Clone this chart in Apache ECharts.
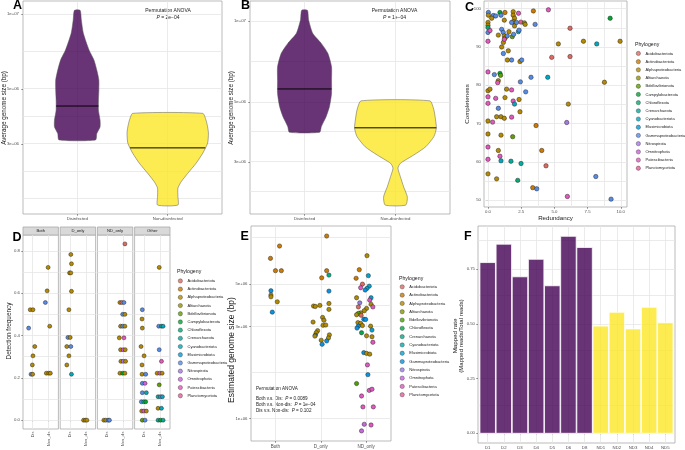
<!DOCTYPE html>
<html>
<head>
<meta charset="utf-8">
<title>Genome size and detection</title>
<script src="https://cdn.jsdelivr.net/npm/echarts@6.0.0/dist/echarts.min.js"></script>
<style>
  html, body { margin: 0; padding: 0; background: #fff; }
  #chart { width: 685px; height: 450px; }
</style>
</head>
<body>
<div id="chart"></div>
<script>
// ---------- shared ----------
const phyla = ['Acidobacteriota', 'Actinobacteriota', 'Alphaproteobacteria', 'Altiarchaeota',
  'Bdellovibrionota', 'Campylobacterota', 'Chloroflexota', 'Crenarchaeota', 'Cyanobacteriota',
  'Elusimicrobiota', 'Gammaproteobacteria', 'Nitrospirota', 'Omnitrophota', 'Patescibacteria',
  'Planctomycetota'];
const codes = ['Aci', 'Act', 'Alp', 'Alt', 'Bde', 'Cam', 'Chl', 'Cre', 'Cya', 'Elu', 'Gam', 'Nit', 'Omn', 'Pat', 'Pla'];
const phylaE = phyla.filter(p => p !== 'Campylobacterota');
const hue15 = ['#F8766D', '#E58700', '#C99800', '#A3A500', '#6BB100', '#00BA38', '#00BF7D', '#00C0AF',
  '#00BCD8', '#00B0F6', '#619CFF', '#B983FF', '#E76BF3', '#FD61D1', '#FF67A4'];
const hue14 = ['#F8766D', '#E38900', '#C49A00', '#99A800', '#53B400', '#00BC56', '#00C094', '#00BFC4',
  '#00B6EB', '#06A4FF', '#A58AFF', '#DF70F8', '#FB61D7', '#FF66A8'];

// ---------- A / B : violins of average genome size ----------
const groups = ['Disinfected', 'Non-disinfected'];
const sizeBreaks = [3e6, 5e6, 1e7];
const aDisSize = [1.034e7, 9.46e6, 8.36e6, 7.16e6, 6.53e6, 5.86e6, 5.43e6, 4.95e6, 4.52e6, 4.11e6, 3.75e6, 3.52e6, 3.31e6, 3.12e6];
const aDisDens = [0.07, 0.10, 0.15, 0.29, 0.41, 0.49, 0.53, 0.53, 0.52, 0.52, 0.56, 0.56, 0.48, 0.45];
const aNonSize = [3.99e6, 3.75e6, 3.52e6, 3.32e6, 3.03e6, 2.76e6, 2.52e6, 2.29e6, 2.12e6, 2.00e6, 1.85e6, 1.71e6];
const aNonDens = [0.86, 0.94, 0.98, 1.00, 0.98, 0.86, 0.70, 0.49, 0.33, 0.25, 0.25, 0.25];
const aMedian = [4.27e6, 2.90e6];
const bDisSize = [1.096e7, 1.008e7, 9.0e6, 8.26e6, 7.59e6, 6.77e6, 6.04e6, 5.39e6, 4.82e6, 4.43e6, 4.06e6, 3.87e6];
const bDisDens = [0.07, 0.10, 0.20, 0.41, 0.57, 0.66, 0.66, 0.66, 0.61, 0.53, 0.41, 0.37];
const bNonSize = [5.06e6, 4.68e6, 4.30e6, 4.01e6, 3.73e6, 3.42e6, 3.19e6, 2.97e6, 2.85e6, 2.65e6, 2.43e6, 2.23e6, 2.08e6];
const bNonDens = [0.84, 0.94, 0.98, 1.00, 0.94, 0.74, 0.45, 0.12, 0.06, 0.12, 0.20, 0.29, 0.25];
const bMedian = [5.60e6, 4.02e6];

// ---------- C : completeness vs redundancy ----------
const cRed = [0.03, 0.03, 0.40, 0.58, 0.28, 0.00, 0.00, 0.00, 0.00, 0.15,
  0.00, 0.90, 0.98, 1.28, 1.23, 1.90, 1.90, 2.00, 1.90, 2.00,
  2.30, 1.78, 2.15, 2.48, 2.74, 2.80, 3.42, 4.55, 3.55, 1.03,
  1.15, 0.78, 1.23, 1.28, 1.45, 1.16, 1.58, 1.83, 1.93, 2.29,
  2.34, 1.23, 1.03, 1.16, 1.53, 1.46, 1.78, 2.41, 2.54, 6.18,
  5.30, 7.19, 8.19, 9.95, 9.20, 4.80, 6.18, 0.00, 0.48, 0.90,
  0.95, 0.78, 0.73, 0.00, 0.15, 1.40, 1.78, 2.44, 3.24, 4.50,
  2.84, 0.00, 0.58, 1.28, 1.90, 2.00, 2.34, 0.00, 6.05, 8.77,
  0.78, 0.65, 0.98, 1.23, 1.78, 2.41, 0.00, 0.35, 3.62, 5.93,
  0.00, 0.98, 1.86, 0.00, 0.78, 4.05, 0.90, 0.98, 0.00, 1.73,
  2.49, 4.37, 0.00, 0.65, 2.24, 3.37, 3.67, 5.98, 8.12, 9.27];
const cComp = [99.0, 98.3, 98.2, 98.1, 97.5, 96.4, 95.7, 95.1, 93.8, 94.3,
  91.5, 99.0, 98.3, 99.0, 97.0, 99.2, 98.3, 97.5, 96.6, 95.5,
  98.8, 96.4, 96.4, 96.5, 96.3, 95.9, 99.4, 99.7, 95.9, 94.6,
  93.8, 93.1, 92.9, 92.3, 92.9, 91.2, 94.0, 92.7, 93.3, 94.0,
  94.4, 92.0, 90.0, 88.3, 89.0, 86.6, 86.6, 86.2, 86.6, 94.9,
  90.8, 91.5, 90.8, 91.5, 97.5, 87.3, 87.5, 83.5, 82.8, 83.1,
  82.6, 81.2, 80.7, 78.6, 79.0, 79.0, 78.8, 80.9, 82.1, 82.1,
  78.3, 77.0, 76.6, 76.8, 75.9, 75.1, 76.3, 75.3, 75.1, 80.8,
  74.0, 71.8, 71.8, 71.4, 71.7, 73.1, 70.7, 70.4, 69.5, 70.3,
  67.3, 67.0, 66.6, 63.9, 63.0, 63.0, 61.5, 60.3, 60.7, 60.2,
  59.6, 59.0, 56.9, 55.6, 55.2, 53.3, 53.0, 51.0, 56.2, 50.3];
const cPhy = ['Gam', 'Alp', 'Gam', 'Gam', 'Alp', 'Alp', 'Alp', 'Chl', 'Gam', 'Pat',
  'Pat', 'Cam', 'Gam', 'Act', 'Alp', 'Alp', 'Alp', 'Alp', 'Alp', 'Alp',
  'Pat', 'Gam', 'Gam', 'Pla', 'Alt', 'Alp', 'Act', 'Pat', 'Gam', 'Gam',
  'Gam', 'Alp', 'Alp', 'Alp', 'Gam', 'Alp', 'Alp', 'Bde', 'Gam', 'Cya',
  'Gam', 'Pat', 'Alp', 'Gam', 'Alp', 'Alp', 'Gam', 'Alp', 'Gam', 'Aci',
  'Alp', 'Alp', 'Cya', 'Alp', 'Cam', 'Aci', 'Aci', 'Pat', 'Gam', 'Cam',
  'Bde', 'Alp', 'Pat', 'Alp', 'Alp', 'Alp', 'Pat', 'Gam', 'Gam', 'Cya',
  'Gam', 'Pat', 'Pat', 'Alp', 'Pat', 'Cya', 'Alp', 'Pat', 'Alp', 'Alp',
  'Gam', 'Alp', 'Alp', 'Alp', 'Pat', 'Alp', 'Alp', 'Pat', 'Act', 'Nit',
  'Alp', 'Alp', 'Bde', 'Pat', 'Alp', 'Act', 'Pat', 'Cya', 'Pat', 'Cre',
  'Cre', 'Aci', 'Alp', 'Alp', 'Chl', 'Act', 'Gam', 'Pat', 'Gam', 'Gam'];
const cXBreaks = [0, 2.5, 5, 7.5, 10];
const cYBreaks = [50, 60, 70, 80, 90, 100];

// ---------- D : detection frequency by facet ----------
const dFacets = ['Both', 'D_only', 'ND_only', 'Other'];
const dGroups = ['Dis', 'Non_dis'];
const dBothX = [0.85, 1.02, 0.75, 1.13, 1.02, 0.98, 0.90, 1.00, 1.96, 1.90, 1.79, 2.06, 1.85, 2.00, 2.10];
const dBothY = [0.522, 0.522, 0.435, 0.348, 0.304, 0.261, 0.217, 0.217, 0.722, 0.611, 0.556, 0.444, 0.222, 0.222, 0.222];
const dBothP = ['Alp', 'Alp', 'Gam', 'Alp', 'Alp', 'Alp', 'Gam', 'Alp', 'Alp', 'Alp', 'Gam', 'Alp', 'Alp', 'Alp', 'Alp'];
const dDonX = [1.06, 1.10, 0.98, 1.06, 1.10, 0.94, 0.88, 1.02, 0.81, 1.06, 0.94, 0.81, 1.10, 1.85, 1.96, 2.06];
const dDonY = [0.783, 0.739, 0.696, 0.696, 0.609, 0.522, 0.391, 0.391, 0.348, 0.348, 0.304, 0.261, 0.217, 0, 0, 0];
const dDonP = ['Alp', 'Alp', 'Alp', 'Alp', 'Alp', 'Alp', 'Gam', 'Alp', 'Alp', 'Gam', 'Alp', 'Alp', 'Cya', 'Alp', 'Alp', 'Alp'];
const dNDonX = [0.80, 0.92, 1.07, 1.15, 2.11, 1.80, 1.92, 2.05, 1.97, 2.11, 1.84, 1.97, 2.11, 1.76, 2.05, 1.84,
  2.00, 2.13, 1.86, 2.00, 2.15, 1.80, 1.97, 2.11];
const dNDonY = [0, 0, 0, 0, 0.833, 0.556, 0.556, 0.556, 0.5, 0.5, 0.444, 0.444, 0.444, 0.389, 0.389, 0.333,
  0.333, 0.333, 0.278, 0.278, 0.278, 0.222, 0.222, 0.222];
const dNDonP = ['Alp', 'Alp', 'Gam', 'Gam', 'Aci', 'Alp', 'Aci', 'Gam', 'Gam', 'Alp', 'Alp', 'Gam', 'Alp', 'Alp', 'Pat', 'Alp',
  'Omn', 'Alp', 'Alp', 'Nit', 'Alp', 'Alp', 'Cam', 'Alp'];
const dOthX = [0.88, 0.86, 0.88, 0.80, 0.99, 0.86, 0.86, 1.09, 0.88, 1.05, 0.88, 1.13, 0.82, 0.97, 1.09, 0.84, 0.97, 1.13, 0.88, 1.05,
  1.93, 1.90, 2.07, 2.17, 1.93, 2.07, 1.80, 1.97, 2.11, 1.93, 1.86, 2.01, 2.13, 1.86, 2.07, 1.86, 2.01, 2.17];
const dOthY = [0.522, 0.478, 0.435, 0.348, 0.304, 0.261, 0.217, 0.217, 0.174, 0.174, 0.130, 0.130, 0.087, 0.087, 0.087, 0.043, 0.043, 0.043, 0, 0,
  0.722, 0.444, 0.444, 0.444, 0.333, 0.278, 0.222, 0.222, 0.222, 0.167, 0.111, 0.111, 0.111, 0.056, 0.056, 0, 0, 0];
const dOthP = ['Gam', 'Alp', 'Alp', 'Alp', 'Alp', 'Alp', 'Alp', 'Gam', 'Gam', 'Omn', 'Gam', 'Cya', 'Gam', 'Cre', 'Cam', 'Alp', 'Pat', 'Alp', 'Bde', 'Gam',
  'Alp', 'Gam', 'Cre', 'Cya', 'Gam', 'Pat', 'Alp', 'Pat', 'Alp', 'Bde', 'Cre', 'Gam', 'Cya', 'Alp', 'Cya', 'Cre', 'Cam', 'Cre'];
const dYBreaks = [0, 0.2, 0.4, 0.6, 0.8];

// ---------- E : estimated genome size ----------
const eGroups = ['Both', 'D_only', 'ND_only'];
const eX = [1.09, 0.89, 1.00, 1.13, 0.90, 0.90, 0.90, 1.04, 0.93,
  2.13, 2.13, 2.02, 2.18, 2.18, 2.18, 2.18, 1.84, 1.88, 1.98, 1.83, 2.04, 2.07, 2.05, 2.11, 1.93, 1.90, 1.88, 1.87, 2.19, 2.17, 2.01, 2.13, 2.03,
  3.02, 2.85, 2.78, 3.05, 2.92, 2.88, 3.07, 3.02, 2.98, 2.79, 2.86, 3.11, 3.08, 3.11, 3.15, 2.83, 3.01, 2.96, 2.88, 2.83, 2.89, 2.79, 2.95, 2.99,
  2.82, 2.88, 2.83, 2.92, 2.80, 3.10, 3.13, 2.90, 3.01, 3.13, 3.15, 2.95, 3.01, 3.08, 3.03, 3.04, 2.79, 3.07, 3.13, 2.90, 2.93, 3.16, 2.96, 3.11, 2.90];
const eSize = [7.87e6, 6.79e6, 5.86e6, 5.86e6, 4.61e6, 4.38e6, 4.29e6, 4.04e6, 3.57e6,
  8.87e6, 5.86e6, 5.38e6, 5.56e6, 4.59e6, 3.96e6, 3.69e6, 3.84e6, 3.82e6, 3.87e6, 3.17e6, 3.35e6, 3.24e6, 3.05e6, 3.06e6, 2.86e6, 2.79e6, 2.71e6, 2.68e6, 2.72e6, 2.62e6, 2.55e6, 2.53e6, 2.43e6,
  7.01e6, 5.93e6, 5.35e6, 5.52e6, 4.99e6, 4.78e6, 4.87e6, 4.74e6, 4.65e6, 4.24e6, 3.99e6, 4.24e6, 4.12e6, 3.92e6, 3.80e6, 3.80e6, 3.73e6, 3.63e6, 3.54e6, 3.52e6, 3.44e6, 3.46e6, 3.28e6, 3.27e6,
  3.15e6, 3.12e6, 3.02e6, 3.04e6, 2.95e6, 3.02e6, 2.88e6, 2.79e6, 2.69e6, 2.66e6, 2.49e6, 2.20e6, 2.18e6, 2.16e6, 1.90e6, 1.69e6, 1.52e6, 1.40e6, 1.42e6, 1.31e6, 1.15e6, 1.15e6, 9.34e5, 9.26e5, 8.63e5];
const ePhy = ['Act', 'Act', 'Act', 'Act', 'Gam', 'Alp', 'Alp', 'Alp', 'Gam',
  'Act', 'Act', 'Act', 'Cre', 'Gam', 'Alp', 'Alp', 'Alp', 'Alp', 'Alp', 'Alp', 'Alp', 'Alp', 'Alp', 'Alp', 'Alp', 'Alp', 'Gam', 'Alp', 'Alp', 'Alp', 'Alp', 'Gam', 'Gam',
  'Alp', 'Act', 'Act', 'Elu', 'Aci', 'Pat', 'Elu', 'Elu', 'Gam', 'Alp', 'Nit', 'Elu', 'Pat', 'Alp', 'Pat', 'Aci', 'Alp', 'Alp', 'Alp', 'Bde', 'Aci', 'Alp', 'Gam', 'Gam',
  'Alp', 'Alp', 'Gam', 'Alp', 'Gam', 'Alp', 'Elu', 'Chl', 'Alp', 'Alp', 'Pat', 'Gam', 'Alp', 'Alp', 'Pat', 'Gam', 'Bde', 'Pat', 'Pat', 'Pat', 'Pat', 'Pat', 'Omn', 'Pat', 'Omn'];
const eBreaks = [1e6, 3e6, 5e6];

// ---------- F : mapped rate ----------
const fSamples = ['D1', 'D2', 'D3', 'D4', 'D5', 'D6', 'D8', 'ND1', 'ND2', 'ND3', 'ND4', 'ND5'];
const fRate = [0.780, 0.864, 0.715, 0.795, 0.674, 0.900, 0.849, 0.490, 0.553, 0.477, 0.576, 0.505];
const fGroup = ['D', 'D', 'D', 'D', 'D', 'D', 'D', 'ND', 'ND', 'ND', 'ND', 'ND'];
const fBreaks = [0, 0.25, 0.5, 0.75];

// ---------- helpers ----------
const FONT = '"Liberation Sans", Arial, Helvetica, sans-serif';
const PURPLE = 'rgba(68,1,84,0.8)';
const YELLOW = 'rgba(253,231,37,0.8)';
const VW = 0.45;
const lg = Math.log10;
const sci = v => Math.pow(10, v).toExponential(0).replace(/e([+-])(\d)$/, 'e$10$2');

// points look a touch darker than the raw hue palette in the figure
function shade(hex, k) {
  const n = parseInt(hex.slice(1), 16);
  const c = [n >> 16, (n >> 8) & 255, n & 255].map(v => Math.round(v * k));
  return 'rgb(' + c.join(',') + ')';
}
const pal15 = hue15.map(h => shade(h, 0.9));
const pal14 = hue14.map(h => shade(h, 0.9));

// ggplot-style minor breaks: midpoints, extended one step past the ends
function withMinor(b, lo, hi) {
  b = b.slice();
  const bd = b[1] - b[0];
  if (lo < b[0]) b.unshift(b[0] - bd);
  if (hi > b[b.length - 1]) b.push(b[b.length - 1] + bd);
  const out = [];
  for (let i = 0; i < b.length - 1; i++) out.push(b[i], (b[i] + b[i + 1]) / 2);
  out.push(b[b.length - 1]);
  return out.filter(v => v >= lo - 1e-9 && v <= hi + 1e-9);
}

function axis(gi, min, max, ticks, fmt, o = {}) {
  return {
    type: 'value', gridIndex: gi, min, max,
    axisLine: { show: false },
    splitLine: { show: false },
    axisTick: { show: o.tick !== false, customValues: ticks, length: 1.8, lineStyle: { color: '#333', width: 0.5 } },
    axisLabel: {
      show: o.label !== false, customValues: ticks, formatter: fmt, rotate: o.rotate || 0,
      fontSize: o.fs || 4.3, color: '#4D4D4D', fontFamily: FONT, margin: o.margin || 3
    }
  };
}

function gridSeries(gi, xs, ys) {
  return {
    type: 'line', xAxisIndex: gi, yAxisIndex: gi, data: [], silent: true,
    markLine: {
      silent: true, z: 1, animation: false, symbol: ['none', 'none'], label: { show: false },
      lineStyle: { color: '#E6E6E6', width: 0.8, type: 'solid' }, emphasis: { disabled: true },
      data: xs.map(v => ({ xAxis: v })).concat(ys.map(v => ({ yAxis: v })))
    }
  };
}

function violin(gi, xc, sizes, dens, fill) {
  return {
    type: 'custom', xAxisIndex: gi, yAxisIndex: gi, z: 3, silent: true,
    data: sizes.map((s, i) => [xc, lg(s), dens[i]]),
    renderItem: (params, api) => {
      if (params.dataIndex !== 0) return null;
      const right = [], left = [];
      for (let i = 0; i < sizes.length; i++) {
        const w = dens[i] * VW;
        right.push(api.coord([xc + w, lg(sizes[i])]));
        left.unshift(api.coord([xc - w, lg(sizes[i])]));
      }
      return {
        type: 'polygon', shape: { points: right.concat(left), smooth: 0.2 },
        style: { fill, stroke: '#555', lineWidth: 0.5 }
      };
    }
  };
}

function densAt(sizes, dens, v) {
  const l = lg(v);
  for (let i = 0; i < sizes.length - 1; i++) {
    const a = lg(sizes[i]), b = lg(sizes[i + 1]);
    if (l <= a && l >= b) return dens[i] + (l - a) / (b - a) * (dens[i + 1] - dens[i]);
  }
  return 0;
}

function medians(gi, meds, profiles) {
  return {
    type: 'custom', xAxisIndex: gi, yAxisIndex: gi, z: 4, silent: true,
    data: meds.map((m, i) => [i + 1, lg(m), densAt(profiles[i][0], profiles[i][1], m)]),
    renderItem: (params, api) => {
      const x = api.value(0), y = api.value(1), w = api.value(2) * VW;
      const p0 = api.coord([x - w, y]), p1 = api.coord([x + w, y]);
      return { type: 'line', shape: { x1: p0[0], y1: p0[1], x2: p1[0], y2: p1[1] }, style: { stroke: '#000', lineWidth: 1 } };
    }
  };
}

function points(gi, xs, ys, ps, names, pal, size) {
  return {
    type: 'scatter', xAxisIndex: gi, yAxisIndex: gi, z: 4, silent: true, symbolSize: size,
    data: xs.map((x, i) => [x, ys[i], names.indexOf(phyla[codes.indexOf(ps[i])])]),
    itemStyle: { color: p => pal[p.value[2]], borderColor: '#1A1A1A', borderWidth: 0.45, opacity: 1 }
  };
}

function legendAt(left, top, names, pal, gap) {
  return {
    orient: 'vertical', left, top, padding: 0, itemGap: gap, itemWidth: 4.3, itemHeight: 4.3,
    icon: 'circle', selectedMode: false,
    data: names.map((n, i) => ({ name: n, itemStyle: { color: pal[i], borderColor: '#1A1A1A', borderWidth: 0.4 } })),
    textStyle: { fontSize: 4, color: '#1A1A1A', fontFamily: FONT, lineHeight: 4.3 }
  };
}

function txt(x, y, text, size, o = {}) {
  return {
    type: 'text', x, y, silent: true, rotation: o.rot || 0,
    style: {
      text, fontSize: size, fontFamily: FONT, fontWeight: o.bold ? 'bold' : 'normal',
      fill: o.color || '#1A1A1A', textAlign: o.align || 'center', textVerticalAlign: 'middle',
      rich: { i: { fontStyle: 'italic', fontSize: size, fontFamily: FONT, fill: o.color || '#1A1A1A' } }
    }
  };
}

// ---------- layout ----------
const dLefts = [23, 60.2, 97.4, 134.6];
const grids = [
  { left: 23, top: 1, width: 199, height: 213 },     // A
  { left: 250, top: 1, width: 200, height: 213 },    // B
  { left: 484, top: 1, width: 143, height: 206 },    // C
  ...dLefts.map(l => ({ left: l, top: 235, width: 35.4, height: 194 })), // D facets
  { left: 251, top: 226, width: 140, height: 215 },  // E
  { left: 478, top: 226, width: 197, height: 217 }   // F
].map(g => Object.assign({ show: true, borderColor: '#AAAAAA', borderWidth: 0.8, backgroundColor: 'transparent' }, g));

const aY = [6.197, 7.052], bY = [6.285, 7.074], eY = [5.8835, 7.0];
const sizeTicks = sizeBreaks.map(lg);
const grpFmt = v => groups[Math.round(v) - 1];
const dFmt = v => dGroups[Math.round(v) - 1];

const xAxes = [
  axis(0, 0.4, 2.6, [1, 2], grpFmt, { margin: 3 }),
  axis(1, 0.4, 2.6, [1, 2], grpFmt, { margin: 3 }),
  axis(2, -0.3, 10.47, cXBreaks, v => v.toFixed(1)),
  ...dLefts.map((l, i) => axis(3 + i, 0.4, 2.6, [1, 2], dFmt, { rotate: 90, fs: 4, margin: 2.5 })),
  axis(7, 0.46, 3.55, [1, 2, 3], v => eGroups[Math.round(v) - 1], { fs: 4.5 }),
  axis(8, 0.4, 12.6, fSamples.map((s, i) => i + 1), v => fSamples[Math.round(v) - 1], { fs: 4.3 })
];
const yAxes = [
  axis(0, aY[0], aY[1], sizeTicks, sci, { margin: 4 }),
  axis(1, bY[0], bY[1], sizeTicks, sci, { margin: 4 }),
  axis(2, 48.25, 102.0, cYBreaks, v => String(v)),
  ...dLefts.map((l, i) => axis(3 + i, -0.0417, 0.875, dYBreaks, v => v.toFixed(1), { label: i === 0, tick: i === 0 })),
  axis(7, eY[0], eY[1], eBreaks.map(lg), sci, { margin: 3.5 }),
  axis(8, -0.0443, 0.947, fBreaks, v => v.toFixed(2))
];

// ---------- series ----------
const series = [
  gridSeries(0, [1, 2], withMinor(sizeTicks, aY[0], aY[1])),
  gridSeries(1, [1, 2], withMinor(sizeTicks, bY[0], bY[1])),
  gridSeries(2, withMinor(cXBreaks, -0.3, 10.47), withMinor(cYBreaks, 48.25, 102.0)),
  ...dLefts.map((l, i) => gridSeries(3 + i, [1, 2], withMinor(dYBreaks, -0.0417, 0.875))),
  gridSeries(7, [1, 2, 3], withMinor(eBreaks.map(lg), eY[0], eY[1])),
  gridSeries(8, fSamples.map((s, i) => i + 1), withMinor(fBreaks, -0.0443, 0.947)),

  violin(0, 1, aDisSize, aDisDens, PURPLE),
  violin(0, 2, aNonSize, aNonDens, YELLOW),
  medians(0, aMedian, [[aDisSize, aDisDens], [aNonSize, aNonDens]]),
  violin(1, 1, bDisSize, bDisDens, PURPLE),
  violin(1, 2, bNonSize, bNonDens, YELLOW),
  medians(1, bMedian, [[bDisSize, bDisDens], [bNonSize, bNonDens]]),

  points(2, cRed, cComp, cPhy, phyla, pal15, 4.4),
  points(3, dBothX, dBothY, dBothP, phyla, pal15, 4),
  points(4, dDonX, dDonY, dDonP, phyla, pal15, 4),
  points(5, dNDonX, dNDonY, dNDonP, phyla, pal15, 4),
  points(6, dOthX, dOthY, dOthP, phyla, pal15, 4),
  points(7, eX, eSize.map(lg), ePhy, phylaE, pal14, 4.3),

  {
    type: 'custom', xAxisIndex: 8, yAxisIndex: 8, z: 3, silent: true,
    data: fRate.map((v, i) => [i + 1, v, fGroup[i] === 'D' ? 0 : 1]),
    renderItem: (params, api) => {
      const x = api.value(0), v = api.value(1);
      const p0 = api.coord([x - 0.48, v]), p1 = api.coord([x + 0.48, 0]);
      return {
        type: 'rect', shape: { x: p0[0], y: p0[1], width: p1[0] - p0[0], height: p1[1] - p0[1] },
        style: { fill: api.value(2) === 0 ? PURPLE : YELLOW, stroke: '#FFFFFF', lineWidth: 0.8 }
      };
    }
  },

  // empty series so the three legends have entries
  ...phyla.map(n => ({ type: 'scatter', name: n, xAxisIndex: 0, yAxisIndex: 0, data: [] }))
];

// ---------- text, strips, labels ----------
const graphic = [
  txt(13, 6, 'A', 12.5, { bold: true, align: 'left', color: '#000' }),
  txt(241, 6, 'B', 12.5, { bold: true, align: 'left', color: '#000' }),
  txt(465, 7.5, 'C', 12.5, { bold: true, align: 'left', color: '#000' }),
  txt(12.5, 237.5, 'D', 12.5, { bold: true, align: 'left', color: '#000' }),
  txt(240.5, 237, 'E', 12.5, { bold: true, align: 'left', color: '#000' }),
  txt(464, 237, 'F', 12.5, { bold: true, align: 'left', color: '#000' }),

  txt(4.5, 108, 'Average genome size (bp)', 6.3, { rot: Math.PI / 2 }),
  txt(231.5, 108, 'Average genome size (bp)', 6.3, { rot: Math.PI / 2 }),
  txt(467.5, 104, 'Completeness', 6.2, { rot: Math.PI / 2 }),
  txt(555.5, 218.5, 'Redundancy', 6.2),
  txt(9.3, 331, 'Detection frequency', 6.4, { rot: Math.PI / 2 }),
  txt(232, 350, 'Estimated genome size (bp)', 8.5, { rot: Math.PI / 2 }),
  txt(455.5, 336, 'Mapped rate', 6.2, { rot: Math.PI / 2 }),
  txt(461.5, 336, '(Mapped reads/Total reads)', 6, { rot: Math.PI / 2 }),

  txt(168, 11, 'Permutation ANOVA', 5),
  txt(168, 17.5, '{i|P} = 2e\u221204', 5),
  txt(394.5, 11, 'Permutation ANOVA', 5),
  txt(394.5, 17.5, '{i|P} = 1e\u221204', 5),
  txt(256, 389, 'Permutation ANOVA', 4.6, { align: 'left' }),
  txt(256, 399, 'Both v.s. Dis:  {i|P} = 0.0089', 4.6, { align: 'left' }),
  txt(256, 405, 'Both v.s. Non-dis:  {i|P} = 1e\u221204', 4.6, { align: 'left' }),
  txt(256, 411, 'Dis v.s. Non-dis:  {i|P} = 0.102', 4.6, { align: 'left' }),

  txt(635, 44.3, 'Phylogeny', 5.2, { align: 'left' }),
  txt(177, 272, 'Phylogeny', 5.2, { align: 'left' }),
  txt(399, 278.3, 'Phylogeny', 5.2, { align: 'left' }),

  ...dLefts.map(l => ({
    type: 'rect', silent: true, shape: { x: l, y: 227, width: 35.4, height: 8 },
    style: { fill: '#D9D9D9', stroke: '#AAAAAA', lineWidth: 0.8 }
  })),
  ...dLefts.map((l, i) => txt(l + 17.7, 231, dFacets[i], 4.2))
];

const chart = echarts.init(document.getElementById('chart'), null, { renderer: 'canvas' });
chart.setOption({
  animation: false,
  backgroundColor: '#FFFFFF',
  textStyle: { fontFamily: FONT },
  grid: grids,
  xAxis: xAxes,
  yAxis: yAxes,
  legend: [
    legendAt(636, 51.1, phyla, pal15, 3.5),
    legendAt(178, 278.6, phyla, pal15, 3.5),
    legendAt(399.85, 284.5, phylaE, pal14, 3.6)
  ],
  series,
  graphic
});
</script>
</body>
</html>
